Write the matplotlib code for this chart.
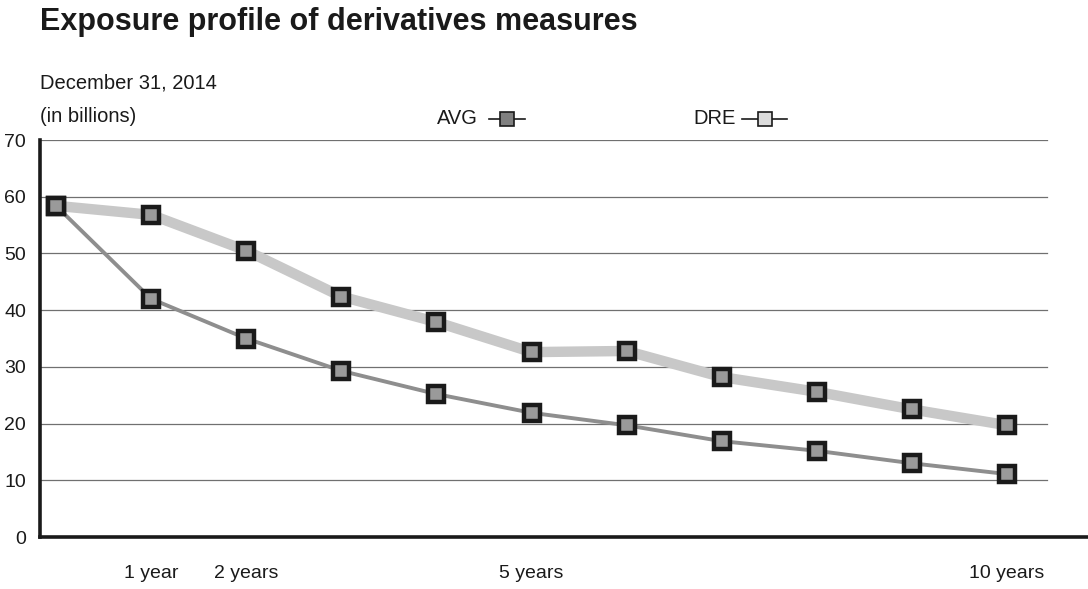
import matplotlib
matplotlib.use("Agg")
import matplotlib.pyplot as plt
from matplotlib.lines import Line2D

plt.rcParams['font.family'] = ['Liberation Sans', 'DejaVu Sans']

x_pos = list(range(11))
avg = [58.4, 42.0, 35.0, 29.3, 25.2, 21.9, 19.7, 16.9, 15.2, 13.0, 11.1]
dre = [58.4, 56.8, 50.5, 42.4, 37.9, 32.6, 32.8, 28.2, 25.6, 22.5, 19.7]
yticks = [0, 10, 20, 30, 40, 50, 60, 70]
xtick_pos = [1, 2, 5, 10]
xtick_labels = ["1 year", "2 years", "5 years", "10 years"]

W, H = 1088, 589
fig = plt.figure(figsize=(W / 100, H / 100), dpi=100)
ax = fig.add_axes([40 / W, (H - 537) / H, 1048 / W, (537 - 140) / H])

px = 95.1
ax.set_xlim(-16 / px, (1088 - 56) / px)
ax.set_ylim(0, 70)

grid_end = (1047 - 56) / px
for y in yticks[1:]:
    ax.plot([ax.get_xlim()[0], grid_end], [y, y], color='#707070', lw=0.9, zorder=1)

ax.plot(x_pos, dre, color='#c8c8c8', lw=7.5, zorder=2, solid_joinstyle='miter')
ax.plot(x_pos, avg, color='#8e8e8e', lw=2.8, zorder=3)
for series in (dre, avg):
    ax.plot(x_pos, series, ls='none', marker='s', markersize=11.5,
            markerfacecolor='#9a9a9a', markeredgecolor='#1a1a1a', markeredgewidth=3.2, zorder=4)

for s in ['top', 'right']:
    ax.spines[s].set_visible(False)
ax.spines['left'].set_linewidth(2.6)
ax.spines['bottom'].set_linewidth(2.6)
ax.spines['left'].set_color('#1a1a1a')
ax.spines['bottom'].set_color('#1a1a1a')

ax.set_yticks(yticks)
ax.set_yticklabels([str(v) for v in yticks], fontsize=14, color='#1a1a1a')
ax.tick_params(axis='y', length=0, pad=10)
for lab in ax.get_yticklabels():
    lab.set_horizontalalignment('right')

ax.set_xticks(xtick_pos)
ax.set_xticklabels(xtick_labels, fontsize=14, color='#1a1a1a')
ax.tick_params(axis='x', length=0, pad=20)

fig.text(40 / W, 1 - 22 / H, "Exposure profile of derivatives measures", fontsize=22,
         fontweight='bold', va='center', ha='left', color='#1a1a1a')
fig.text(40 / W, 1 - 83 / H, "December 31, 2014", fontsize=14.5, va='center', ha='left', color='#1a1a1a')
fig.text(40 / W, 1 - 116 / H, "(in billions)", fontsize=14.5, va='center', ha='left', color='#1a1a1a')

def legend_item(label, tx, lx0, lx1, face):
    yc = 1 - 119 / H
    fig.text(tx / W, yc, label, fontsize=14.5, va='center', ha='right', color='#1a1a1a')
    fig.add_artist(Line2D([lx0 / W, lx1 / W], [yc, yc], color='#1a1a1a', lw=1.2))
    fig.add_artist(Line2D([(lx0 + lx1) / 2 / W], [yc], marker='s', markersize=10,
                          markerfacecolor=face, markeredgecolor='#1a1a1a', markeredgewidth=1.2, ls='none'))

legend_item("AVG", 478, 489, 525, '#808080')
legend_item("DRE", 736, 742, 787, '#dcdcdc')

fig.savefig("out.png", dpi=100)
